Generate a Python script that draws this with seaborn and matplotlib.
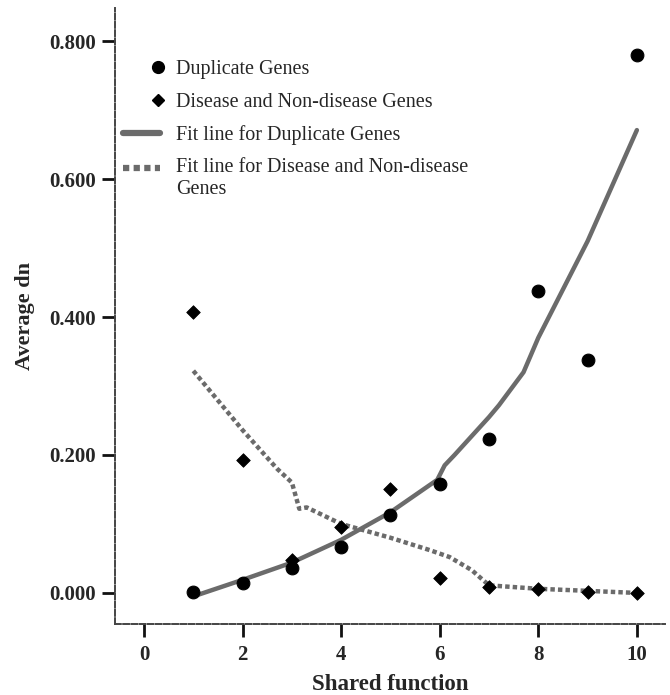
import matplotlib
matplotlib.use("Agg")
import matplotlib.pyplot as plt
import seaborn as sns
from matplotlib.lines import Line2D
from matplotlib.legend_handler import HandlerLine2D
import numpy as np

shared = [1, 2, 3, 4, 5, 6, 7, 8, 9, 10]
dup_dn = [0.002, 0.015, 0.036, 0.067, 0.113, 0.158, 0.223, 0.437, 0.338, 0.780]
dis_dn = [0.407, 0.192, 0.048, 0.096, 0.151, 0.022, 0.008, 0.005, 0.001, 0.000]

dup_fit_x = [1, 2, 3, 4, 5, 5.95, 6.1, 6.3, 7.0, 7.2, 7.7, 8.0, 9.0, 10.0]
dup_fit_y = [-0.005, 0.019, 0.044, 0.077, 0.117, 0.164, 0.185, 0.200, 0.255, 0.272, 0.320, 0.370, 0.510, 0.671]
dis_fit_x = [1, 2, 2.7, 3.0, 3.15, 3.3, 4, 5, 5.8, 6.2, 6.65, 7.0, 8, 9, 10]
dis_fit_y = [0.322, 0.236, 0.180, 0.160, 0.122, 0.124, 0.100, 0.080, 0.062, 0.052, 0.033, 0.011, 0.006, 0.003, 0.000]

xticks = [0, 2, 4, 6, 8, 10]
yticks = [0.0, 0.2, 0.4, 0.6, 0.8]

sns.set_style("white")
plt.rcParams['font.family'] = ['Liberation Serif', 'DejaVu Serif']

fig = plt.figure(figsize=(6.7, 6.95), dpi=100)
ax = fig.add_axes([0.1716, 0.1022, 0.8209, 0.8863])

gray = "#6b6b6b"
sns.lineplot(x=dup_fit_x, y=dup_fit_y, ax=ax, color=gray, lw=3.2, sort=False, estimator=None)
sns.lineplot(x=dis_fit_x, y=dis_fit_y, ax=ax, color=gray, lw=3.2, sort=False, estimator=None)
ax.lines[-1].set_dashes((1.0, 0.7))
sns.scatterplot(x=shared, y=dup_dn, ax=ax, color="black", marker="o", s=85, edgecolor="black", zorder=3)
sns.scatterplot(x=shared, y=dis_dn, ax=ax, color="black", marker="D", s=48, edgecolor="black", zorder=3)

ax.set_xlim(-0.59, 10.57)
ax.set_ylim(-0.045, 0.848)
ax.set_xticks(xticks)
ax.set_yticks(yticks)
ax.set_xticklabels([str(t) for t in xticks], fontweight='bold', fontsize=15)
ax.set_yticklabels([f"{t:.3f}" for t in yticks], fontweight='bold', fontsize=15)
ax.tick_params(axis='both', direction='out', length=9.5, width=2, color='#111111', left=True, bottom=True)
ax.tick_params(axis='y', pad=4.5)
ax.tick_params(axis='x', pad=6)
ax.set_xlabel("Shared function", fontweight='bold', fontsize=16.5, labelpad=6)
ax.set_ylabel("Average dn", fontweight='bold', fontsize=16, labelpad=10)

for s in ['top', 'right']:
    ax.spines[s].set_visible(False)
for s in ['left', 'bottom']:
    ax.spines[s].set_linestyle((0, (3, 1.2)))
    ax.spines[s].set_color('#444444')
    ax.spines[s].set_linewidth(1.4)


class RightMarkerHandler(HandlerLine2D):
    def get_xdata(self, legend, xdescent, ydescent, width, height, fontsize):
        xdata = np.array([-xdescent + width * 0.9, -xdescent + width * 1.0], dtype=float)
        xm = np.array([-xdescent + width * 0.95])
        return xdata, xm


class RaisedLineHandler(HandlerLine2D):
    def __init__(self, dy=0.0, **kw):
        super().__init__(**kw)
        self.dy = dy

    def create_artists(self, legend, orig_handle, xdescent, ydescent, width, height, fontsize, trans):
        arts = super().create_artists(legend, orig_handle, xdescent, ydescent, width, height, fontsize, trans)
        for a in arts:
            a.set_ydata(np.asarray(a.get_ydata(), dtype=float) + self.dy)
        return arts


h_dup = Line2D([], [], marker='o', color='black', linestyle='none', markersize=8.5)
h_dis = Line2D([], [], marker='D', color='black', linestyle='none', markersize=6)
h_fit1 = Line2D([], [], color=gray, lw=4.5)
h_fit2 = Line2D([], [], color=gray, lw=4.5, dashes=(1.0, 0.7))
handles = [h_dup, h_dis, h_fit1, h_fit2]
labels = ["Duplicate Genes", "Disease and Non-disease Genes",
          "Fit line for Duplicate Genes", "Fit line for Disease and Non-disease\nGenes"]
leg = ax.legend(handles, labels, loc='upper left', bbox_to_anchor=(0.0145, 0.915), frameon=False,
                fontsize=14.5, handlelength=1.85, handletextpad=0.8, labelspacing=0.65,
                borderpad=0, borderaxespad=0,
                handler_map={h_dup: RightMarkerHandler(), h_dis: RightMarkerHandler(),
                             h_fit2: RaisedLineHandler(dy=7.5)})
for t in leg.get_texts():
    t.set_linespacing(1.25)

fig.savefig("out.png", dpi=100)
